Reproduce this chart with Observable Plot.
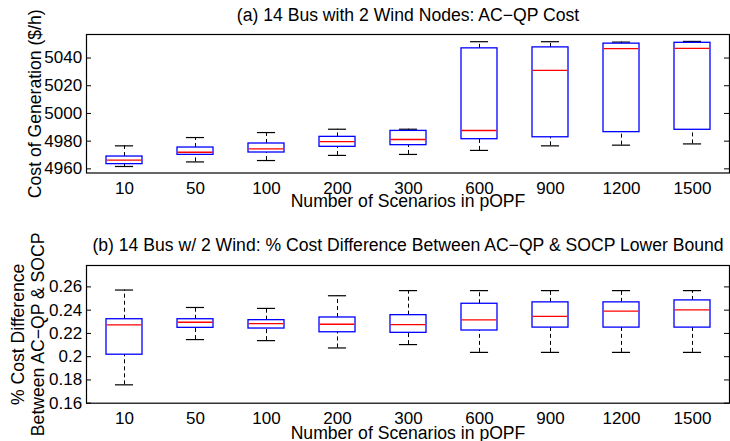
<!DOCTYPE html>
<html>
<head>
<meta charset="utf-8">
<script src="https://cdn.jsdelivr.net/npm/d3@7"></script>
<script src="https://cdn.jsdelivr.net/npm/@observablehq/plot@0.6"></script>
<style>
  html, body { margin: 0; padding: 0; background: #fff; }
  #wrap { position: relative; width: 730px; height: 441px; overflow: hidden; }
  #wrap > svg { position: absolute; left: 0; }
</style>
</head>
<body>
<div id="wrap"></div>
<script>
// Categories (number of scenarios)
const scenarios = ["10", "50", "100", "200", "300", "600", "900", "1200", "1500"];

// (a) AC-QP cost box statistics ($/h)
const costLowerWhisker = [4961.7, 4965.0, 4966.0, 4969.7, 4970.4, 4973.3, 4976.6, 4977.1, 4978.0];
const costQ1           = [4963.4, 4970.1, 4971.8, 4975.9, 4977.1, 4981.4, 4982.8, 4986.5, 4988.2];
const costMedian       = [4966.3, 4972.0, 4974.4, 4979.7, 4981.2, 4987.7, 5031.1, 5046.8, 5047.0];
const costQ3           = [4968.9, 4975.4, 4978.3, 4983.1, 4987.4, 5047.0, 5047.7, 5050.4, 5051.0];
const costUpperWhisker = [4976.6, 4982.6, 4986.2, 4988.6, 4988.6, 5051.8, 5051.8, 5051.5, 5052.0];
const costTicks = [4960, 4980, 5000, 5020, 5040];

// (b) % cost difference box statistics
const diffLowerWhisker = [0.1758, 0.2147, 0.2138, 0.2075, 0.2104, 0.2037, 0.2037, 0.2037, 0.2037];
const diffQ1           = [0.2017, 0.2248, 0.2242, 0.2210, 0.2205, 0.2225, 0.2250, 0.2250, 0.2250];
const diffMedian       = [0.2274, 0.2296, 0.2285, 0.2279, 0.2276, 0.2317, 0.2346, 0.2391, 0.2403];
const diffQ3           = [0.2322, 0.2322, 0.2314, 0.2337, 0.2357, 0.2455, 0.2467, 0.2467, 0.2484];
const diffUpperWhisker = [0.2573, 0.2423, 0.2415, 0.2524, 0.2568, 0.2568, 0.2568, 0.2568, 0.2568];
const diffTicks = [0.16, 0.18, 0.20, 0.22, 0.24, 0.26];

const titleA = "(a) 14 Bus with 2 Wind Nodes: AC\u2212QP Cost";
const titleB = "(b) 14 Bus w/ 2 Wind: % Cost Difference Between AC\u2212QP & SOCP Lower Bound";
const xLabel = "Number of Scenarios in pOPF";
const yLabelA = "Cost of Generation ($/h)";
const yLabelB = "% Cost Difference\nBetween AC\u2212QP & SOCP";

const FONT = "'Liberation Sans', Arial, Helvetica, sans-serif";
const FS = 17;      // tick labels
const FL = 17.6;    // titles and axis labels
const W = 730;
const ML = 86, MR = 1;
const frameW = W - ML - MR;
const bandW = frameW / scenarios.length * 0.5;

function rows(lw, q1, med, q3, uw) {
  return scenarios.map((s, i) => ({s, lw: lw[i], q1: q1[i], med: med[i], q3: q3[i], uw: uw[i]}));
}

function panel({data, height, marginTop, marginBottom, yDomain, yTicks, yFormat, title, titleDy, xlabelDy, ylabel, ylabelDx, lineHeight}) {
  return Plot.plot({
    width: W,
    height,
    marginLeft: ML,
    marginRight: MR,
    marginTop,
    marginBottom,
    style: {fontFamily: FONT, fontSize: FS + "px", color: "#000", background: "transparent", overflow: "visible"},
    x: {type: "band", domain: scenarios, paddingInner: 0.5, paddingOuter: 0.25},
    y: {domain: yDomain},
    marks: [
      // whiskers
      Plot.ruleX(data, {x: "s", y1: "q3", y2: "uw", stroke: "#000", strokeWidth: 1, strokeDasharray: "4,3"}),
      Plot.ruleX(data, {x: "s", y1: "lw", y2: "q1", stroke: "#000", strokeWidth: 1, strokeDasharray: "4,3"}),
      // caps
      Plot.tickY(data, {x: "s", y: "uw", stroke: "#000", strokeWidth: 1.2, insetLeft: bandW / 4, insetRight: bandW / 4}),
      Plot.tickY(data, {x: "s", y: "lw", stroke: "#000", strokeWidth: 1.2, insetLeft: bandW / 4, insetRight: bandW / 4}),
      // boxes
      Plot.barY(data, {x: "s", y1: "q1", y2: "q3", fill: "none", stroke: "#0000ff", strokeWidth: 1.3}),
      // medians
      Plot.tickY(data, {x: "s", y: "med", stroke: "#ff0000", strokeWidth: 1.3, insetLeft: 0.6, insetRight: 0.6}),
      // inward y ticks, left and right
      Plot.tickY(yTicks, {y: d => d, stroke: "#000", strokeWidth: 1, insetRight: frameW - 5}),
      Plot.tickY(yTicks, {y: d => d, stroke: "#000", strokeWidth: 1, insetLeft: frameW - 5}),
      Plot.axisY({ticks: yTicks, tickSize: 0, tickPadding: 4.3, tickFormat: yFormat, label: null, fontSize: FS}),
      Plot.axisX({tickSize: 0, tickPadding: 8.5, label: null, fontSize: FS}),
      Plot.frame({stroke: "#000", strokeWidth: 1.2}),
      Plot.text([title], {frameAnchor: "top", lineAnchor: "bottom", dy: titleDy, fontSize: FL, fill: "#000"}),
      Plot.text([xLabel], {frameAnchor: "bottom", lineAnchor: "bottom", dy: xlabelDy, fontSize: FL, fill: "#000"}),
      Plot.text([ylabel], {frameAnchor: "left", textAnchor: "middle", rotate: -90, lineAnchor: "bottom", dx: ylabelDx, fontSize: FL, lineHeight, fill: "#000"})
    ]
  });
}

const wrap = document.getElementById("wrap");

const svgA = panel({
  data: rows(costLowerWhisker, costQ1, costMedian, costQ3, costUpperWhisker),
  height: 220, marginTop: 34, marginBottom: 47.5,
  yDomain: [4957, 5057], yTicks: costTicks, yFormat: d => String(d),
  title: titleA, titleDy: -13.5, xlabelDy: 34,
  ylabel: yLabelA, ylabelDx: -46, lineHeight: 1.12
});
svgA.style.top = "0px";
wrap.appendChild(svgA);

const svgB = panel({
  data: rows(diffLowerWhisker, diffQ1, diffMedian, diffQ3, diffUpperWhisker),
  height: 221, marginTop: 45, marginBottom: 38.3,
  yDomain: [0.16, 0.2784], yTicks: diffTicks, yFormat: d => String(+d.toFixed(2)),
  title: titleB, titleDy: -14.3, xlabelDy: 35.3,
  ylabel: yLabelB, ylabelDx: -42.5, lineHeight: 1.12
});
svgB.style.top = "220px";
wrap.appendChild(svgB);
</script>
</body>
</html>
